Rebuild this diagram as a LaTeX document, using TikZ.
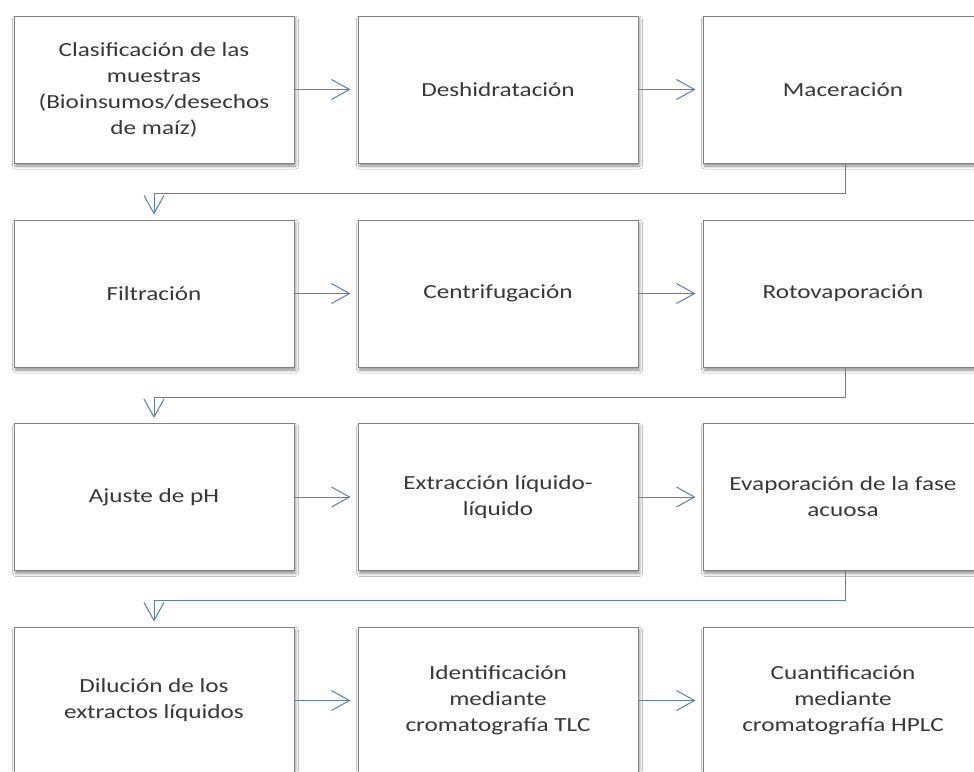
\documentclass[tikz,border=0pt]{standalone}
\usepackage{fontspec}
\setmainfont[FakeStretch=1.26]{Carlito}
\usetikzlibrary{arrows.meta,shadows.blur}
\definecolor{flecha}{HTML}{5B7FA6}
\definecolor{borde}{HTML}{808080}
\begin{document}
\begin{tikzpicture}[x=1pt,y=-1pt,
  caja/.style={draw=borde,line width=1pt,fill=white,minimum width=280pt,minimum height=147pt,
    align=center,font=\fontsize{20}{26}\selectfont\color{black!78},
    blur shadow={shadow xshift=1.5pt,shadow yshift=-3pt,shadow blur radius=3pt,shadow opacity=45}},
  paso/.style={draw=flecha,line width=1pt,-{Straight Barb[length=18pt,width=20pt]}}]
\useasboundingbox (0,0) rectangle (974,771);
\clip (0,0) rectangle (974,771);
\fill[white] (0,0) rectangle (974,771);
% fila 1
\node[caja] (clasif) at (154,89.5) {Clasificación de las\\muestras\\(Bioinsumos/desechos\\de maíz)};
\node[caja] (deshid) at (498,89.5) {Deshidratación};
\node[caja] (macer) at (843,89.5) {Maceración};
% fila 2
\node[caja] (filtr) at (154,293.5) {Filtración};
\node[caja] (centr) at (498,293.5) {Centrifugación};
\node[caja] (rotov) at (843,293.5) {Rotovaporación};
% fila 3
\node[caja] (ajuste) at (154,497) {Ajuste de pH};
\node[caja] (extrac) at (498,497) {Extracción líquido-\\líquido};
\node[caja] (evap) at (843,497) {Evaporación de la fase\\acuosa};
% fila 4
\node[caja] (dilu) at (154,700.5) {Dilución de los\\extractos líquidos};
\node[caja] (ident) at (498,700.5) {Identificación\\mediante\\cromatografía TLC};
\node[caja] (cuant) at (843,700.5) {Cuantificación\\mediante\\cromatografía HPLC};
% flechas horizontales
\draw[paso,shorten >=7pt] (clasif) -- (deshid);
\draw[paso,shorten >=7pt] (deshid) -- (macer);
\draw[paso,shorten >=7pt] (filtr) -- (centr);
\draw[paso,shorten >=7pt] (centr) -- (rotov);
\draw[paso,shorten >=7pt] (ajuste) -- (extrac);
\draw[paso,shorten >=7pt] (extrac) -- (evap);
\draw[paso,shorten >=7pt] (dilu) -- (ident);
\draw[paso,shorten >=7pt] (ident) -- (cuant);
% cambios de fila
\draw[paso,shorten >=5pt] ([xshift=2pt]macer.south) |- (154,193) -- (filtr.north);
\draw[paso,shorten >=5pt] ([xshift=2pt]rotov.south) |- (154,397) -- (ajuste.north);
\draw[paso,shorten >=5pt] ([xshift=2pt]evap.south) |- (154,600) -- (dilu.north);
\end{tikzpicture}
\end{document}
